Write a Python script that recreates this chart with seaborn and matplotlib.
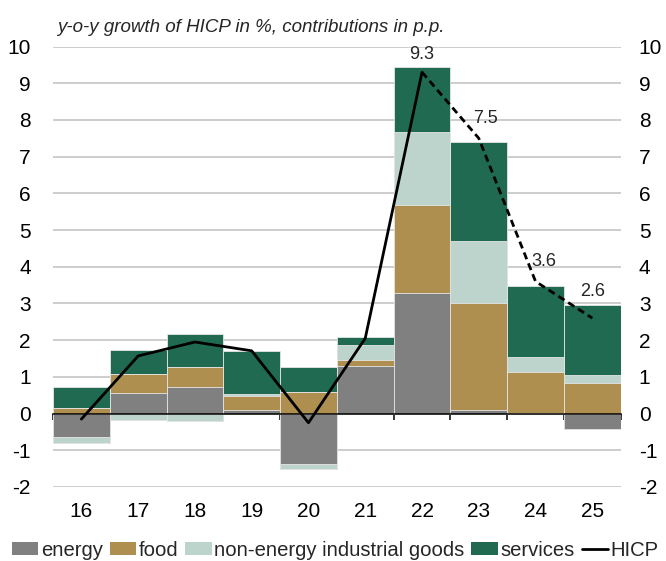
import numpy as np
import pandas as pd
import matplotlib
matplotlib.use("Agg")
import matplotlib.pyplot as plt
import seaborn as sns
from matplotlib.patches import Patch
from matplotlib.lines import Line2D
from matplotlib.ticker import FixedLocator

# ---- data ----
years = ["16", "17", "18", "19", "20", "21", "22", "23", "24", "25"]
energy = [-0.65, 0.56, 0.72, 0.11, -1.36, 1.29, 3.28, 0.09, 0.01, -0.41]
food = [0.14, 0.52, 0.56, 0.36, 0.60, 0.18, 2.41, 2.92, 1.11, 0.82]
neig = [-0.15, -0.18, -0.20, 0.07, -0.16, 0.41, 1.98, 1.68, 0.42, 0.22]
services = [0.58, 0.66, 0.89, 1.17, 0.67, 0.20, 1.78, 2.72, 1.94, 1.91]
hicp = [-0.15, 1.57, 1.95, 1.71, -0.25, 2.05, 9.3, 7.5, 3.6, 2.6]
labelled_years = ["22", "23", "24", "25"]
forecast_start = "22"
series_names = ["energy", "food", "non-energy industrial goods", "services"]
yticks = list(range(-2, 11))

# ---- style ----
colors = {"energy": "#808080", "food": "#AE8F4F",
          "non-energy industrial goods": "#BCD4CB", "services": "#1F6A50"}
label_offsets = {"22": (0, 12.5), "23": (4.5, 14.5), "24": (6, 14.5), "25": (0, 19.5)}

sns.set_theme(style="white")
plt.rcParams['font.family'] = ['Liberation Sans', 'DejaVu Sans']
plt.rcParams['axes.unicode_minus'] = False

fig = plt.figure(figsize=(6.66, 5.61), dpi=100)
ax = fig.add_axes([53 / 666, 1 - 487 / 561, (620.7 - 53) / 666, (487 - 46.5) / 561])

n = len(years)
xpos = np.arange(n)
values = {"energy": energy, "food": food,
          "non-energy industrial goods": neig, "services": services}

pos_cum = np.zeros(n)
neg_cum = np.zeros(n)
layers = []
for name in series_names:
    v = np.array(values[name], dtype=float)
    pos_cum = pos_cum + np.clip(v, 0, None)
    neg_cum = neg_cum + np.clip(v, None, 0)
    layers.append((name, pos_cum.copy(), neg_cum.copy()))

for name, pc, nc in reversed(layers):
    for h in (pc, nc):
        sns.barplot(x=xpos, y=h, native_scale=True, orient="x", width=1,
                    color=colors[name], saturation=1, edgecolor="#e6e6e6",
                    linewidth=0.6, errorbar=None, ax=ax)

df = pd.DataFrame({"x": xpos, "hicp": hicp})
k = years.index(forecast_start)
sns.lineplot(data=df.iloc[:k + 1], x="x", y="hicp", color="black", lw=2,
             sort=False, ax=ax)
sns.lineplot(data=df.iloc[k:], x="x", y="hicp", color="black", lw=2,
             linestyle=(0, (2.6, 1.6)), sort=False, ax=ax)

for yr in labelled_years:
    i = years.index(yr)
    ax.annotate(f"{hicp[i]:.1f}", xy=(xpos[i], hicp[i]), xytext=label_offsets[yr],
                textcoords="offset points", ha="center", va="center", fontsize=13)

ax.set_xlim(-0.5, n - 0.5)
ax.set_ylim(-2, 10)
ax.set_xlabel("")
ax.set_ylabel("")
ax.set_yticks(yticks)
ax.set_xticks(xpos, labels=years)
ax.xaxis.set_minor_locator(FixedLocator(np.arange(n + 1) - 0.5))
ax.tick_params(axis="x", which="major", length=0, pad=64, labelsize=15, colors="black")
ax.tick_params(axis="x", which="minor", length=4.5, width=1.1, color="black",
               direction="out", bottom=True)
ax.tick_params(axis="y", length=0, pad=16, labelsize=15, colors="black")
ax.yaxis.grid(True, color="#C0C0C0", lw=1.1)
ax.xaxis.grid(False)
ax.set_axisbelow(True)
for s in ["left", "right", "top"]:
    ax.spines[s].set_visible(False)
ax.spines["bottom"].set_position(("data", 0))
ax.spines["bottom"].set_color("black")
ax.spines["bottom"].set_linewidth(1.1)
ax.spines["bottom"].set_zorder(3)

ax2 = ax.twinx()
ax2.set_ylim(-2, 10)
ax2.set_yticks(yticks)
ax2.tick_params(axis="y", length=0, pad=13, labelsize=15, colors="black")
ax2.grid(False)
for s in ax2.spines.values():
    s.set_visible(False)

fig.text(57 / 666, 1 - 32 / 561, "y-o-y growth of HICP in %, contributions in p.p.",
         style="italic", fontsize=13.5, ha="left", va="baseline")

handles = [Patch(facecolor=colors[nm], edgecolor="none") for nm in series_names]
handles.append(Line2D([], [], color="black", lw=2))
labels = series_names + ["HICP"]
fig.legend(handles, labels, loc="center left", bbox_to_anchor=(12 / 666, 1 - 550 / 561),
           ncol=5, frameon=False, fontsize=14.6, handlelength=1.3, handleheight=0.65,
           handletextpad=0.12, columnspacing=0.35, borderpad=0, borderaxespad=0)

fig.savefig("out.png", dpi=100)
